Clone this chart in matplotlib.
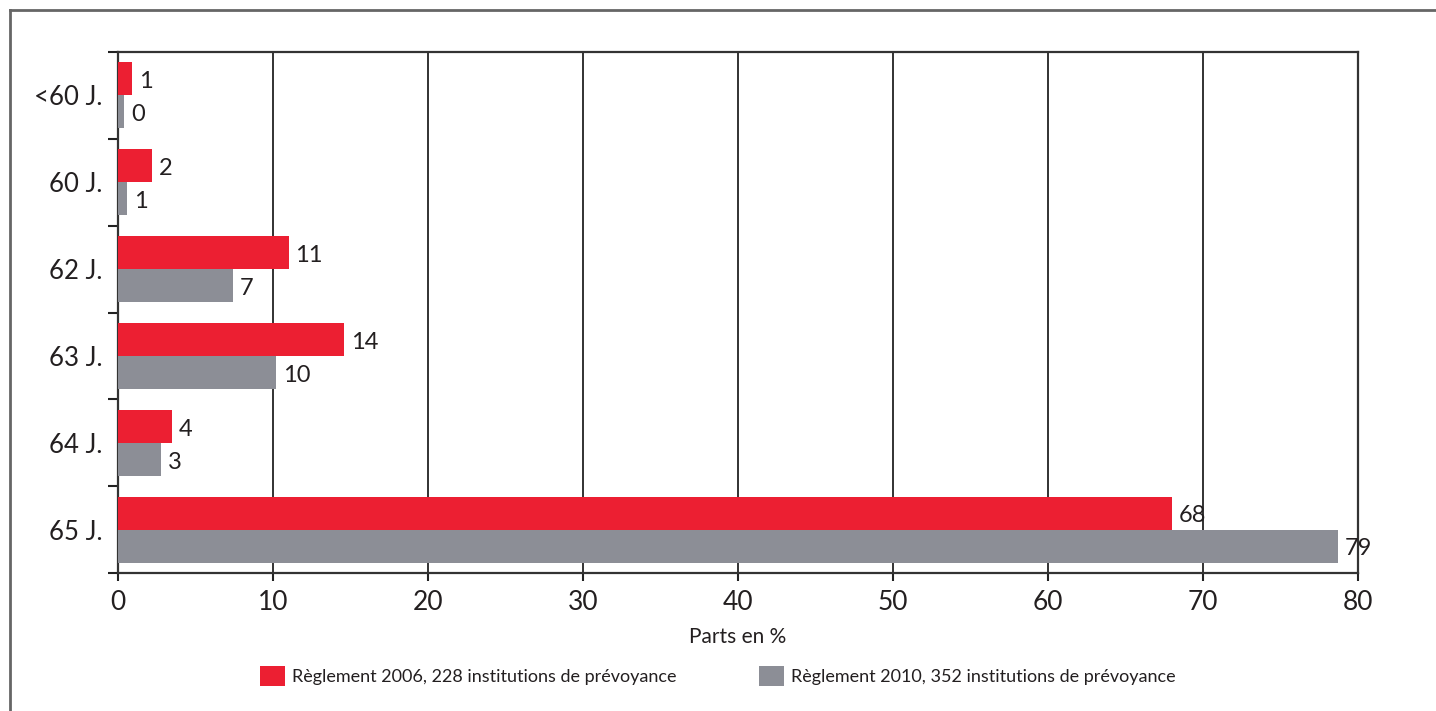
import matplotlib
matplotlib.use("Agg")
import matplotlib.pyplot as plt
from matplotlib.lines import Line2D
from matplotlib.patches import Patch
import numpy as np

categories = ["<60 J.", "60 J.", "62 J.", "63 J.", "64 J.", "65 J."]
values_2006 = [0.9, 2.2, 11.0, 14.6, 3.5, 68.0]
values_2010 = [0.4, 0.6, 7.4, 10.2, 2.8, 78.7]
labels_2006 = ["1", "2", "11", "14", "4", "68"]
labels_2010 = ["0", "1", "7", "10", "3", "79"]
series_names = ["Règlement 2006, 228 institutions de prévoyance",
                "Règlement 2010, 352 institutions de prévoyance"]
x_ticks = [0, 10, 20, 30, 40, 50, 60, 70, 80]
x_label = "Parts en %"

RED = "#EC1F32"
GRAY = "#8C8E96"
TXT = "#231F20"

plt.rcParams['font.family'] = ['Lato', 'DejaVu Sans']

W, H = 1436, 711
fig = plt.figure(figsize=(W / 100, H / 100), dpi=100)
ax = fig.add_axes([118 / W, 1 - 573 / H, (1358 - 118) / W, (573 - 52) / H])

y = np.arange(len(categories))
bh = 0.38
ax.barh(y - bh / 2, values_2006, height=bh, color=RED, zorder=3)
ax.barh(y + bh / 2, values_2010, height=bh, color=GRAY, zorder=3)

for yi, v, lab in zip(y, values_2006, labels_2006):
    ax.annotate(lab, (v, yi - bh / 2), xytext=(5, -2), textcoords="offset points",
                va="center", ha="left", fontsize=17, color=TXT, zorder=4)
for yi, v, lab in zip(y, values_2010, labels_2010):
    ax.annotate(lab, (v, yi + bh / 2), xytext=(5, -2), textcoords="offset points",
                va="center", ha="left", fontsize=17, color=TXT, zorder=4)

ax.set_xlim(0, 80)
ax.set_ylim(len(categories) - 0.5, -0.5)
ax.set_xticks(x_ticks)
ax.set_xticklabels([str(t) for t in x_ticks], fontsize=19, color=TXT)
ax.set_yticks(y)
ax.set_yticklabels(categories, fontsize=18.5, color=TXT)
ax.set_yticks(np.arange(-0.5, len(categories), 1.0), minor=True)
ax.tick_params(axis="y", which="major", length=0, pad=11)
ax.tick_params(axis="y", which="minor", length=7.5, width=1.5, color="#222222", direction="out")
ax.tick_params(axis="x", which="major", length=6, width=1.5, color="#222222", direction="out", pad=6)
ax.xaxis.grid(True, color="#222222", linewidth=1.3, zorder=0)
ax.set_axisbelow(True)
for s in ax.spines.values():
    s.set_linewidth(1.6)
    s.set_color("#333333")

ax.set_xlabel(x_label, fontsize=15, color=TXT, labelpad=9)

handles = [Patch(facecolor=RED, edgecolor="none"), Patch(facecolor=GRAY, edgecolor="none")]
fig.legend(handles, series_names, loc="center", bbox_to_anchor=(0.5, 1 - 676 / H),
           ncol=2, frameon=False, fontsize=13, handlelength=1.35, handleheight=1.4,
           handletextpad=0.4, columnspacing=4.6, labelcolor=TXT)

# outer frame (clipped by the image at right and bottom)
fig.add_artist(Line2D([10 / W, 1.0], [1 - 10 / H, 1 - 10 / H], transform=fig.transFigure,
                      color="#666666", linewidth=2))
fig.add_artist(Line2D([10 / W, 10 / W], [1 - 10 / H, 0.0], transform=fig.transFigure,
                      color="#666666", linewidth=2))

fig.savefig("out.png", dpi=100)
